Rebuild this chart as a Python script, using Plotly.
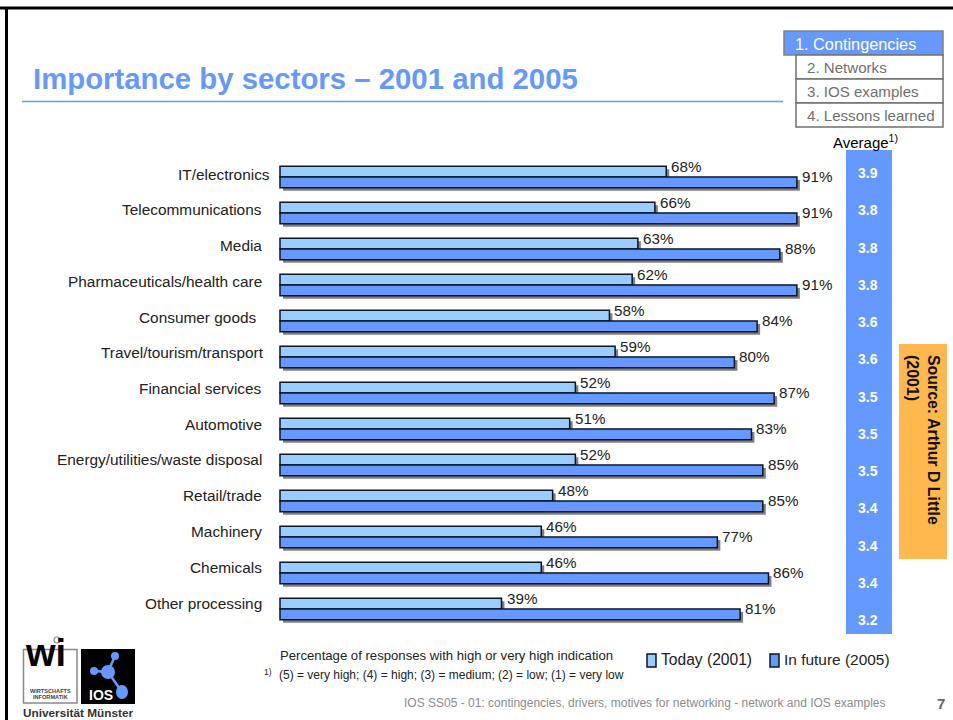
import plotly.graph_objects as go

W, H = 953, 720

sectors = ["IT/electronics", "Telecommunications", "Media", "Pharmaceuticals/health care",
           "Consumer goods", "Travel/tourism/transport", "Financial services", "Automotive",
           "Energy/utilities/waste disposal", "Retail/trade", "Machinery", "Chemicals",
           "Other processing"]
today_2001 = [68, 66, 63, 62, 58, 59, 52, 51, 52, 48, 46, 46, 39]
future_2005 = [91, 91, 88, 91, 84, 80, 87, 83, 85, 85, 77, 86, 81]
averages = ["3.9", "3.8", "3.8", "3.8", "3.6", "3.6", "3.5", "3.5", "3.5", "3.4", "3.4", "3.4", "3.2"]
nav_items = ["1. Contingencies", "2. Networks", "3. IOS examples", "4. Lessons learned"]

BLUE = "#6699FF"
LIGHT = "#99CCFF"
EDGE = "#0B1526"
ARIAL = "Liberation Sans"

# Slide geometry in pixels
X0, PX_PER_PCT = 280, 5.68
Y0, ROW = 177, 36


def px(x):
    return x / W


def py(y):
    return 1 - y / H


shapes, notes = [], []


def rect(x0, y0, x1, y1, fill=None, line=None, lw=1):
    shapes.append(dict(type="rect", xref="paper", yref="paper", layer="below",
                       x0=px(x0), x1=px(x1), y0=py(y0), y1=py(y1),
                       fillcolor=fill or "rgba(0,0,0,0)",
                       line=dict(color=line or "rgba(0,0,0,0)", width=lw if line else 0)))


def seg(x0, y0, x1, y1, color, lw):
    shapes.append(dict(type="line", xref="paper", yref="paper", layer="below",
                       x0=px(x0), x1=px(x1), y0=py(y0), y1=py(y1),
                       line=dict(color=color, width=lw)))


def dot(cx, cy, rx, ry, color):
    shapes.append(dict(type="circle", xref="paper", yref="paper", layer="below",
                       x0=px(cx - rx), x1=px(cx + rx), y0=py(cy - ry), y1=py(cy + ry),
                       fillcolor=color, line=dict(width=0)))


def label(x, y, text, size, color="#222222", family=ARIAL, anchor="left", **kw):
    # Annotations carry about 2px of built-in padding; take it off at the anchored edge
    nudge = {"left": -2, "right": 2, "center": 0}[anchor]
    notes.append(dict(xref="paper", yref="paper", x=px(x + nudge), y=py(y), text=text,
                      xanchor=anchor, yanchor="middle", showarrow=False,
                      font=dict(family=family, size=size, color=color), **kw))


# Slide frame and heading
seg(0, 8, W, 8, "#000000", 3)
seg(6.5, 8, 6.5, H, "#000000", 3)
label(33, 78.5, "<b>Importance by sectors – 2001 and 2005</b>", 29.35, BLUE)
seg(22, 101.5, 783, 101.5, BLUE, 1.5)

# Navigation boxes
rect(784, 31, 943, 55, BLUE, "#808080", 1.5)
label(795, 43.5, nav_items[0], 16.3, "#FFFFFF")
for i, item in enumerate(nav_items[1:]):
    top = 55 + 24 * i
    rect(796, top, 943, top + 24, "#FFFFFF", "#707070", 1.5)
    label(807, top + 12.5, item, 15.1, "#707070")

# Average column
rect(846, 150, 892, 634, BLUE)
label(833, 142, "Average<sup>1)</sup>", 15, "#000000")
for i, value in enumerate(averages):
    label(867.5, 173 + 37.25 * i, f"<b>{value}</b>", 14, "#FFFFFF", anchor="center")

# Source box
rect(899, 344, 947, 559, "#FFB84D")
notes.append(dict(xref="paper", yref="paper", x=px(923), y=py(353), text="<b>Source: Arthur D Little<br>(2001)</b>",
                  xanchor="center", yanchor="top", showarrow=False, textangle=90, align="left",
                  font=dict(family=ARIAL, size=15.9, color="#111111")))

# Sector labels, with their slightly uneven right edges
right_edges = {"IT/electronics": 270, "Consumer goods": 257, "Travel/tourism/transport": 264}
for i, name in enumerate(sectors):
    label(right_edges.get(name, 262), 174 + 35.75 * i, name, 15.4, anchor="right")

# Value labels sit just above the middle of each bar
for i, (a, b) in enumerate(zip(today_2001, future_2005)):
    notes.append(dict(xref="x", yref="y", x=a, y=i, text=f"{a}%", xanchor="left", yanchor="middle",
                      xshift=3, yshift=11, showarrow=False,
                      font=dict(family=ARIAL, size=15.2, color="#222222")))
    notes.append(dict(xref="x", yref="y", x=b, y=i, text=f"{b}%", xanchor="left", yanchor="middle",
                      xshift=3, yshift=1, showarrow=False,
                      font=dict(family=ARIAL, size=15.2, color="#222222")))

# Legend and notes
rect(647, 654, 656, 667, LIGHT, EDGE, 1.5)
label(661, 659, "Today (2001)", 15.6)
rect(770, 654, 779, 667, BLUE, EDGE, 1.5)
label(784, 659, "In future (2005)", 15.45)
label(280, 655, "Percentage of responses with high or very high indication", 13.15)
label(264, 672, "1)", 8.5)
label(279, 675, "(5) = very high; (4) = high; (3) = medium; (2) = low; (1) = very low", 12)
label(404, 703, "IOS SS05 - 01: contingencies, drivers, motives for networking - network and IOS examples",
      12, "#8C8C8C")
label(941, 703, "<b>7</b>", 15, "#666666", anchor="center")

# Logos
rect(23.5, 649.5, 77, 703, "#FFFFFF", "#8A8A8A", 1.5)
shapes.append(dict(type="circle", xref="paper", yref="paper", layer="below", x0=px(54), x1=px(60),
                   y0=py(643), y1=py(637), line=dict(color="#8A8A8A", width=1.2)))
label(25, 653, "<b>wi</b>", 38, "#000000")
label(50, 690.5, "<b>WIRTSCHAFTS</b>", 5.6, "#444444", anchor="center")
label(50, 697, "<b>INFORMATIK</b>", 5.6, "#444444", anchor="center")
rect(81, 649, 135, 704, "#000000")
for x, y in [(115, 656), (94, 671), (122, 692)]:
    seg(108, 672, x, y, BLUE, 2.5)
dot(108, 672, 7, 7, BLUE)
dot(115, 656, 4, 4, BLUE)
dot(94, 671, 4, 4, BLUE)
dot(122, 692, 6, 7, BLUE)
label(101, 695, "<b>IOS</b>", 14, "#FFFFFF", anchor="center")
label(78, 713, "<b>Universität Münster</b>", 11.8, "#333333", anchor="center")

fig = go.Figure()

# Drop shadows live on a second pair of axes offset by a few pixels
for values in (today_2001, future_2005):
    fig.add_trace(go.Bar(y=sectors, x=values, orientation="h", xaxis="x2", yaxis="y2",
                         marker=dict(color="#808080", line=dict(width=0)),
                         showlegend=False, hoverinfo="skip"))

fig.add_trace(go.Bar(y=sectors, x=today_2001, orientation="h", name="Today (2001)",
                     marker=dict(color=LIGHT, line=dict(color=EDGE, width=1.5)), showlegend=False))
fig.add_trace(go.Bar(y=sectors, x=future_2005, orientation="h", name="In future (2005)",
                     marker=dict(color=BLUE, line=dict(color=EDGE, width=1.5)), showlegend=False))


def x_axis(origin, **kw):
    return dict(range=[-origin / PX_PER_PCT, (W - origin) / PX_PER_PCT], domain=[0, 1], visible=False, **kw)


def y_axis(origin, **kw):
    return dict(type="category", categoryorder="array", categoryarray=sectors,
                range=[(H - origin) / ROW, -origin / ROW], domain=[0, 1], visible=False, **kw)


fig.update_layout(
    width=W, height=H, margin=dict(l=0, r=0, t=0, b=0), autosize=False,
    paper_bgcolor="#FFFFFF", plot_bgcolor="rgba(0,0,0,0)",
    barmode="group", bargap=1 - 21.5 / ROW, bargroupgap=0, showlegend=False,
    xaxis=x_axis(X0, overlaying="x2"), yaxis=y_axis(Y0, overlaying="y2"),
    xaxis2=x_axis(X0 + 3, anchor="y2"), yaxis2=y_axis(Y0 + 3, anchor="x2"),
    shapes=shapes, annotations=notes,
)

fig.write_html("out.html", config=dict(displayModeBar=False))
